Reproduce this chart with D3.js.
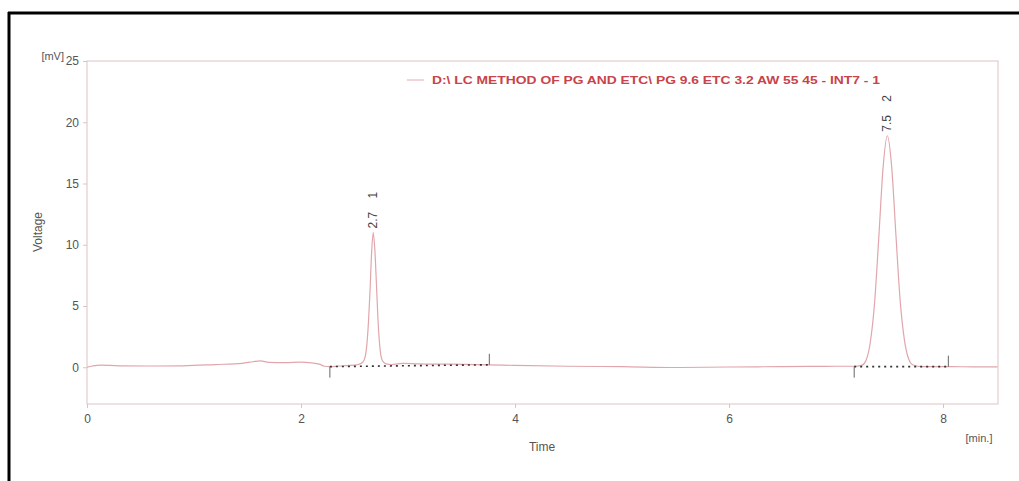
<!DOCTYPE html>
<html>
<head>
<meta charset="utf-8">
<script src="https://cdn.jsdelivr.net/npm/d3@7"></script>
<style>
  body { margin: 0; background: #fff; }
  svg { display: block; font-family: Arial, "Liberation Sans", sans-serif; }
  .axis text { fill: #555; font-size: 12px; }
  .axis path, .axis line { stroke: #dcc3c6; }
</style>
</head>
<body>
<div id="chart"></div>
<script>
'use strict';

// chromatogram trace, [time (min), voltage (mV)]
var trace = [
  [0.00, 0.00], [0.05, 0.10], [0.12, 0.18], [0.30, 0.12], [0.60, 0.10], [0.90, 0.12],
  [1.20, 0.22], [1.45, 0.32], [1.55, 0.45], [1.62, 0.52], [1.70, 0.40], [1.85, 0.38],
  [2.00, 0.42], [2.10, 0.35], [2.17, 0.25], [2.22, 0.08], [2.27, 0.05], [2.35, 0.10],
  [2.45, 0.15], [2.52, 0.20], [2.56, 0.30], [2.59, 0.60], [2.61, 1.40], [2.63, 3.60],
  [2.645, 6.20], [2.66, 9.40], [2.675, 11.0], [2.69, 9.60], [2.705, 6.80], [2.72, 3.80],
  [2.74, 1.40], [2.76, 0.55], [2.79, 0.30], [2.85, 0.22], [2.95, 0.32], [3.10, 0.28],
  [3.40, 0.25], [3.76, 0.20], [4.00, 0.15], [4.50, 0.08], [5.00, 0.05], [5.50, -0.02],
  [6.00, 0.02], [6.50, 0.05], [7.00, 0.08], [7.17, 0.08], [7.24, 0.15], [7.28, 0.55],
  [7.32, 2.00], [7.36, 5.20], [7.40, 10.6], [7.44, 16.3], [7.48, 18.9], [7.52, 16.4],
  [7.56, 10.8], [7.60, 5.40], [7.64, 2.20], [7.68, 0.65], [7.72, 0.18], [7.80, 0.05],
  [8.05, 0.05], [8.30, 0.03], [8.51, 0.03]
];

// integration baselines: [start time, start mV, end time, end mV]
var baselines = [
  [2.27, 0.05, 3.76, 0.20],
  [7.17, 0.05, 8.05, 0.05]
];

// peak labels: retention time, peak number, apex
var peakTimes = ['2.7', '7.5'];
var peakIds = ['1', '2'];
var peakApex = [[2.675, 11.0], [7.48, 18.9]];

var xTicks = [0, 2, 4, 6, 8];
var yTicks = [0, 5, 10, 15, 20, 25];
var legendText = 'D:\\ LC METHOD OF PG AND ETC\\ PG 9.6 ETC 3.2 AW 55 45 - INT7 - 1';

var width = 1019, height = 481;
var plotLeft = 87, plotRight = 998, plotTop = 61, plotBottom = 404;

var svg = d3.select('#chart').append('svg')
  .attr('width', width)
  .attr('height', height);

// outer black frame (top and left only)
svg.append('line').attr('x1', 8).attr('x2', width).attr('y1', 13).attr('y2', 13)
  .attr('stroke', '#000').attr('stroke-width', 3);
svg.append('line').attr('x1', 9).attr('x2', 9).attr('y1', 12).attr('y2', height)
  .attr('stroke', '#000').attr('stroke-width', 3);

var xScale = d3.scaleLinear().domain([0, 8.514]).range([plotLeft, plotRight]);
var yScale = d3.scaleLinear().domain([-3, 25]).range([plotBottom, plotTop]);

// plot frame
svg.append('rect')
  .attr('x', plotLeft).attr('y', plotTop)
  .attr('width', plotRight - plotLeft).attr('height', plotBottom - plotTop)
  .attr('fill', 'none').attr('stroke', '#dcc3c6');

var xAxis = d3.axisBottom(xScale).tickValues(xTicks).tickSize(4).tickPadding(6)
  .tickFormat(d3.format('d'));
var yAxis = d3.axisLeft(yScale).tickValues(yTicks).tickSize(4).tickPadding(4)
  .tickFormat(d3.format('d'));

svg.append('g').attr('class', 'axis')
  .attr('transform', 'translate(0,' + plotBottom + ')')
  .call(xAxis)
  .call(function(g) { g.select('.domain').remove(); });
svg.append('g').attr('class', 'axis')
  .attr('transform', 'translate(' + plotLeft + ',0)')
  .call(yAxis)
  .call(function(g) { g.select('.domain').remove(); });

// axis titles
svg.append('text').attr('x', 0).attr('y', 0)
  .attr('transform', 'translate(42,232) rotate(-90)')
  .attr('text-anchor', 'middle').attr('fill', '#555').attr('font-size', 12)
  .text('Voltage');
svg.append('text').attr('x', 64).attr('y', 60)
  .attr('text-anchor', 'end').attr('fill', '#555').attr('font-size', 11)
  .text('[mV]');
svg.append('text').attr('x', 542).attr('y', 451)
  .attr('text-anchor', 'middle').attr('fill', '#555').attr('font-size', 12)
  .text('Time');
svg.append('text').attr('x', 979).attr('y', 442)
  .attr('text-anchor', 'middle').attr('fill', '#555').attr('font-size', 11)
  .text('[min.]');

// legend
svg.append('line').attr('x1', 407).attr('x2', 424).attr('y1', 80).attr('y2', 80)
  .attr('stroke', '#e3aab0').attr('stroke-width', 1);
svg.append('text').attr('x', 432).attr('y', 84)
  .attr('fill', '#c8434a').attr('font-size', 11).attr('font-weight', 'bold')
  .attr('textLength', 448).attr('lengthAdjust', 'spacingAndGlyphs')
  .text(legendText);

// chromatogram line
var line = d3.line()
  .x(function(d) { return xScale(d[0]); })
  .y(function(d) { return yScale(d[1]); })
  .curve(d3.curveMonotoneX);

svg.append('path').datum(trace)
  .attr('d', line)
  .attr('fill', 'none')
  .attr('stroke', '#e0a6ac')
  .attr('stroke-width', 1.2);

// integration baselines with start/end markers
var base = svg.append('g');
baselines.forEach(function(b) {
  var x1 = xScale(b[0]), y1 = yScale(b[1]), x2 = xScale(b[2]), y2 = yScale(b[3]);
  base.append('line')
    .attr('x1', x1).attr('y1', y1).attr('x2', x2).attr('y2', y2)
    .attr('stroke', '#333').attr('stroke-width', 1.6)
    .attr('stroke-dasharray', '2,4');
  base.append('line')
    .attr('x1', x1).attr('x2', x1).attr('y1', y1).attr('y2', y1 + 11)
    .attr('stroke', '#666').attr('stroke-width', 1);
  base.append('line')
    .attr('x1', x2).attr('x2', x2).attr('y1', y2).attr('y2', y2 - 11)
    .attr('stroke', '#666').attr('stroke-width', 1);
});

// peak labels, rotated
peakApex.forEach(function(p, i) {
  var px = xScale(p[0]) + 4, py = yScale(p[1]) - 4;
  svg.append('text')
    .attr('transform', 'translate(' + px + ',' + py + ') rotate(-90)')
    .attr('fill', '#444').attr('font-size', 12)
    .attr('xml:space', 'preserve')
    .text(peakTimes[i] + '    ' + peakIds[i]);
});
</script>
</body>
</html>
